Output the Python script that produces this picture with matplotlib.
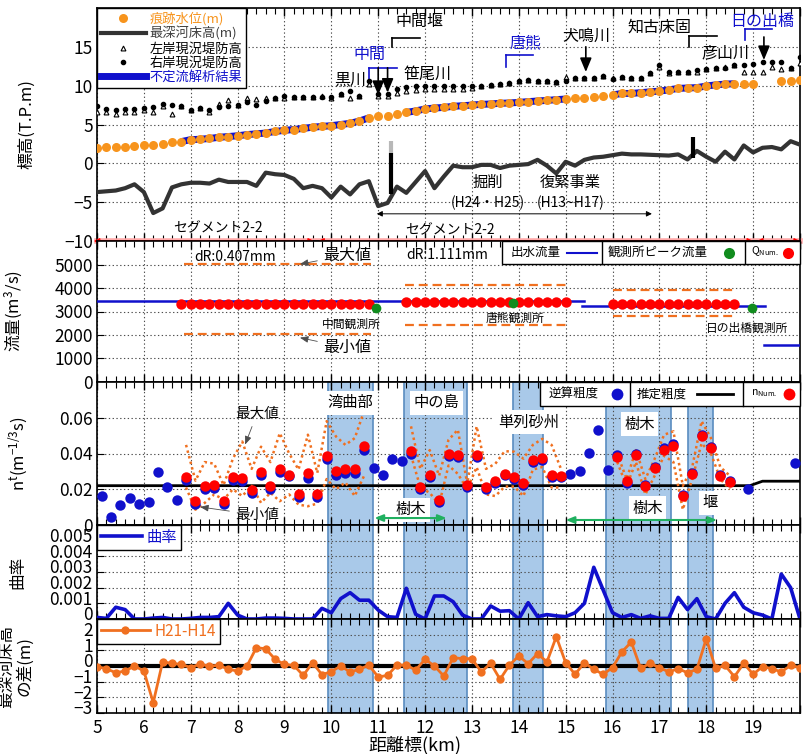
"""
縦断図（標高・流量・粗度・曲率・河床変動）を5段で描く
"""

import numpy as np
import matplotlib
matplotlib.use("Agg")
import matplotlib.pyplot as plt
import matplotlib.transforms as mtransforms
from matplotlib.lines import Line2D
from matplotlib.patches import Rectangle
from matplotlib.ticker import MultipleLocator

plt.rcParams['font.family'] = ['Noto Sans CJK JP', 'DejaVu Sans']
plt.rcParams['axes.unicode_minus'] = True

# =========================
# データ
# =========================
km = np.round(np.arange(5.0, 20.01, 0.2), 1)        # 0.2km ピッチ断面
km_odd = np.round(np.arange(5.1, 19.91, 0.2), 1)    # 粗度を出している断面

# 痕跡水位
trace_km = list(np.round(np.arange(5.0, 19.01, 0.2), 1)) + [19.6, 19.8, 20.0]
trace_wl = [2.0, 2.05, 2.1, 2.15, 2.25, 2.3, 2.4, 2.55, 2.7, 2.8,
            3.05, 3.1, 3.2, 3.35, 3.45, 3.55, 3.7, 3.8, 3.9, 4.1,
            4.25, 4.35, 4.5, 4.65, 4.75, 4.85, 5.0, 5.15, 5.45, 5.85,
            6.05, 6.15, 6.3, 6.55, 6.75, 7.0, 7.12, 7.2, 7.34, 7.42,
            7.5, 7.6, 7.64, 7.73, 7.77, 7.85, 7.94, 8.03, 8.1, 8.2,
            8.28, 8.37, 8.45, 8.54, 8.7, 8.8, 9.0, 9.0, 9.1, 9.2,
            9.3, 9.45, 9.65, 9.7, 9.75, 9.95, 10.1, 10.2, 10.25, 10.25,
            10.25, 10.6, 10.6, 10.7]

# 不定流解析結果の区間
sim_ranges = [(6.8, 10.8), (11.6, 15.0), (16.0, 18.6)]

# 最深河床高
bed = [-3.7, -3.6, -3.5, -3.2, -2.7, -3.7, -6.4, -5.8, -3.1, -2.7,
       -2.5, -2.5, -2.6, -2.1, -2.4, -2.4, -2.4, -2.9, -1.2, -1.4,
       -1.5, -2.0, -3.2, -2.9, -3.2, -4.4, -3.0, -4.0, -2.7, -2.3,
       -5.5, -5.1, -3.0, -3.8, -2.4, -1.0, -3.2, -1.7, -0.3, -0.5,
       -0.5, -0.2, -0.2, -0.6, -0.3, -0.2, -0.1, 0.45, -0.3, -1.3,
       0.2, -0.3, 0.45, 0.75, 0.85, 1.05, 1.25, 1.15, 1.15, 1.1,
       1.05, 1.0, 1.15, 0.5, 1.6, 0.85, 0.2, 1.5, 0.5, 2.3,
       1.4, 2.0, 2.1, 1.8, 2.85, 2.4]

# 堰（km, 下端, 上端）
weir_km = [11.27, 17.72]
weir_lo = [-3.9, 0.65]
weir_hi = [1.35, 3.4]
weir_top_gray = 2.9

# 現況堤防高
levee_left = [6.65, 6.57, 6.35, 6.57, 6.65, 6.87, 6.57, 7.42, 6.35, 7.35,
              6.87, 7.08, 6.65, 7.6, 8.2, 7.5, 8.37, 8.28, 8.4, 8.37,
              8.45, 8.5, 8.5, 8.5, 8.63, 8.45, 8.9, 8.4, 8.7, 10.2,
              8.7, 8.7, 9.05, 9.35, 9.5, 9.57, 9.57, 9.57, 9.57, 9.57,
              9.7, 9.9, 10.1, 10.2, 10.4, 10.55, 10.7, 10.65, 10.65, 10.5,
              11.07, 11.0, 11.0, 11.0, 11.2, 11.0, 11.1, 11.0, 11.0, 11.65,
              12.4, 11.65, 11.7, 11.7, 11.7, 12.2, 12.25, 12.4, 12.7, 11.7,
              11.7, 11.7, 12.4, 12.1, 12.3, 12.9]
levee_right = [7.35, 7.0, 6.87, 7.0, 7.0, 7.1, 7.3, 7.6, 7.5, 7.35,
               6.87, 7.08, 6.87, 7.2, 7.42, 7.5, 7.85, 7.5, 8.07, 8.37,
               8.7, 8.5, 8.5, 8.5, 8.58, 8.5, 8.93, 9.27, 8.7, 10.6,
               8.9, 8.9, 9.57, 9.8, 9.9, 10.0, 9.9, 9.9, 10.0, 10.0,
               9.9, 9.9, 10.1, 10.2, 10.4, 10.55, 10.7, 10.65, 10.65, 10.5,
               10.65, 11.0, 11.0, 11.0, 11.3, 10.9, 11.1, 11.05, 11.05, 11.65,
               12.6, 11.75, 11.8, 11.7, 12.0, 12.2, 12.25, 12.25, 12.6, 12.7,
               12.85, 13.0, 13.05, 13.0, 12.3, 13.7]

# 流量
flow_seg = [(5.0, 15.4, 3430), (15.35, 19.25, 3250), (19.23, 20.0, 1560)]
qnum_km = [np.round(np.arange(6.8, 10.81, 0.2), 1),
           np.round(np.arange(11.6, 15.01, 0.2), 1),
           np.round(np.arange(16.0, 18.61, 0.2), 1)]
qnum_val = [[3320] * 21, [3400] * 18, [3330] * 14]
qrange_km = [(6.85, 10.85), (11.57, 15.0), (16.0, 18.6)]
qmax = [5030, 4140, 3930]
qmin = [2060, 2430, 2790]
obs_km = [10.95, 13.87, 18.97]
obs_q = [3140, 3370, 3140]
obs_name = ['中間観測所', '唐熊観測所', '日の出橋観測所']

# 粗度
n_back = [0.0162, 0.0042, 0.0114, 0.0152, 0.0118, 0.0126, 0.0295, 0.0215, 0.0139, 0.0251,
          0.012, 0.0200, 0.0206, 0.012, 0.0251, 0.0246, 0.018, 0.028, 0.0204, 0.0295,
          0.0272, 0.0158, 0.0263, 0.0158, 0.0371, 0.0280, 0.0291, 0.0291, 0.0419, 0.0318,
          0.0282, 0.0371, 0.0356, 0.0400, 0.020, 0.027, 0.013, 0.0385, 0.038, 0.0215,
          0.0383, 0.020, 0.0234, 0.0278, 0.0257, 0.0222, 0.0352, 0.0366, 0.0268, 0.0266,
          0.0286, 0.0303, 0.0402, 0.0533, 0.0305, 0.039, 0.0236, 0.040, 0.0222, 0.0322,
          0.0429, 0.0453, 0.0167, 0.0291, 0.0505, 0.0438, 0.028, 0.0248, np.nan, 0.0204,
          np.nan, np.nan, np.nan, np.nan, 0.0349]
n_est_km = [5.0, 18.93, 19.2, 20.0]
n_est = [0.022, 0.022, 0.0245, 0.0245]

nnum_km = [np.round(np.arange(6.9, 10.71, 0.2), 1),
           np.round(np.arange(11.7, 14.91, 0.2), 1),
           np.round(np.arange(16.1, 18.51, 0.2), 1)]
nnum = [[0.026, 0.0128, 0.021, 0.0215, 0.0128, 0.026, 0.0257, 0.0192, 0.029, 0.0213,
         0.0309, 0.0276, 0.017, 0.0284, 0.0168, 0.038, 0.0295, 0.0305, 0.0305, 0.0434],
        [0.0406, 0.0204, 0.0272, 0.0133, 0.039, 0.0385, 0.0219, 0.0387, 0.0204, 0.0238,
         0.0282, 0.0261, 0.0227, 0.0356, 0.0371, 0.0272, 0.027],
        [0.0377, 0.0238, 0.0387, 0.0213, 0.0314, 0.0413, 0.0434, 0.0158, 0.028, 0.049,
         0.0425, 0.027, 0.0236]]
nmax = [[0.0448, 0.0248, 0.0352, 0.0343, 0.0223, 0.0371, 0.0467, 0.0314, 0.0438, 0.0352,
         0.0514, 0.040, 0.031, 0.0505, 0.0291, 0.0581, 0.0495, 0.0448, 0.0486, 0.0638],
        [0.0552, 0.0314, 0.0419, 0.0276, 0.0476, 0.0533, 0.0229, 0.0552, 0.0314, 0.0343,
         0.0413, 0.041, 0.0371, 0.0448, 0.0482, 0.0448, 0.0314],
        [0.040, 0.0257, 0.0419, 0.0257, 0.0371, 0.0505, 0.0524, 0.0219, 0.0324, 0.0581,
         0.0486, 0.0324, 0.0276]]
nmin = [[0.021, 0.0086, 0.0124, 0.0171, 0.0143, 0.020, 0.0162, 0.0219, 0.0124, 0.0181,
         0.0133, 0.0171, 0.0114, 0.0105, 0.012, 0.0257, 0.020, 0.0238, 0.0162, 0.0276],
        [0.039, 0.021, 0.018, 0.0114, 0.0333, 0.0286, 0.020, 0.0324, 0.0171, 0.0162,
         0.0215, 0.0215, 0.0162, 0.031, 0.0324, 0.021, 0.021],
        [0.0352, 0.0219, 0.0352, 0.0171, 0.0276, 0.0387, 0.0352, 0.0086, 0.0257, 0.0457,
         0.040, 0.0257, 0.020]]

# 曲率
curv = [0.0001, 0.00004, 0.00075, 0.0006, 0, 0, 0.00006, 0.0001, 0, 0,
        0.00004, 0.0001, 0.0001, 0.00015, 0.001, 0.00025, 0, 0, 0.00006, 0.00006,
        0.00004, 0, 0, 0, 0.00068, 0.0004, 0.0013, 0.00168, 0.0012, 0.0012,
        0.00057, 0.00015, 0.0001, 0.00196, 0.0003, 0, 0.00147, 0.00147, 0.0011, 0.00025,
        0, 0, 0.00083, 0.0005, 0.00053, 0, 0.00104, 0.00015, 0.00028, 0.0002,
        0.00015, 0.0004, 0.001, 0.0033, 0.00185, 0.0004, 0.0001, 0.00028, 0.00004, 0.0002,
        0.00004, 0.00004, 0.00138, 0.0006, 0.0013, 0.00015, 0, 0.001, 0.00168, 0.00075,
        0.0004, 0.00025, 0, 0.00287, 0.002, 0]

# 最深河床高の差 H21-H14
dbed = [-0.04, -0.17, -0.43, -0.32, 0.0, -0.32, -2.34, 0.26, 0.17, 0.1,
        -0.1, 0.13, -0.02, 0.06, -0.21, -0.32, 0.0, 1.17, 1.1, 0.43,
        0.1, 0.04, -0.6, 0.21, -0.55, -0.36, 0.0, -0.38, -0.21, 0.06,
        -0.7, -0.6, 0.06, 0.06, -0.26, 0.43, 0.0, -0.64, 0.53, 0.47,
        0.47, -0.38, 0.17, -0.85, 0.06, 0.64, 0.15, 0.79, 0.26, 1.87,
        0.21, -0.53, 0.21, -0.21, -0.53, -0.1, 0.9, 1.53, -0.15, 0.17,
        -0.1, -0.38, -0.17, -0.43, -0.21, 1.74, -0.15, 0.04, -0.68, 0.17,
        -0.53, -0.04, -0.17, -0.38, 0.04, -0.1]

# 特徴区間（湾曲部・中の島・単列砂州・樹木・堰）
bands = [(9.93, 10.88), (11.55, 12.9), (13.88, 14.52), (15.86, 17.25), (17.6, 18.15)]

# =========================
# 色
# =========================
c_orange = '#f7941d'
c_dash = '#f07020'
c_blue = '#1010cc'
c_red = '#ff0000'
c_green = '#118c1e'
c_band = '#a9c9e9'
c_band_edge = '#5a8cc0'

# =========================
# 図
# =========================
fig = plt.figure(figsize=(8.09, 7.54), dpi=100)
L, W = 97 / 809, 703 / 809


def rect(top_px, bot_px):
    return [L, 1 - bot_px / 754, W, (bot_px - top_px) / 754]


ax1 = fig.add_axes(rect(8, 241))
ax2 = fig.add_axes(rect(241, 382))
ax3 = fig.add_axes(rect(382, 525))
ax4 = fig.add_axes(rect(525, 619))
ax5 = fig.add_axes(rect(619, 713))
axes = [ax1, ax2, ax3, ax4, ax5]


def style(ax):
    ax.set_xlim(5, 20)
    ax.xaxis.set_major_locator(MultipleLocator(1))
    ax.xaxis.set_minor_locator(MultipleLocator(0.2))
    ax.tick_params(axis='x', which='both', direction='in', top=True, bottom=True,
                   labelbottom=False)
    ax.tick_params(axis='x', which='major', length=6, width=1)
    ax.tick_params(axis='x', which='minor', length=4, width=0.8)
    ax.tick_params(axis='y', direction='in', length=5, labelsize=12.5, pad=3)
    ax.grid(True, which='major', ls=(0, (1.2, 2.2)), color='0.3', lw=0.8)
    ax.set_axisbelow(True)
    for s in ax.spines.values():
        s.set_linewidth(1.2)


for ax in axes:
    style(ax)

# -------- 1段目：標高 --------
ax1.set_ylim(-10, 20)
ax1.set_yticks([-10, -5, 0, 5, 10, 15])

ax1.plot(km, bed, color='#333333', lw=3, zorder=3)
for k, lo, hi in zip(weir_km, weir_lo, weir_hi):
    ax1.plot([k, k], [lo, hi], color='k', lw=3, zorder=4, solid_capstyle='butt')
ax1.plot([weir_km[0], weir_km[0]], [weir_hi[0], weir_top_gray], color='#b8b8b8', lw=3,
         zorder=4, solid_capstyle='butt')

ax1.plot(km, levee_left, ls='none', marker='^', ms=3.5, mfc='white', mec='k', mew=0.8, zorder=4)
ax1.plot(km, levee_right, ls='none', marker='o', ms=3, color='k', zorder=4)

trace_km_a = np.array(trace_km)
trace_wl_a = np.array(trace_wl)
for a, b in sim_ranges:
    m = (trace_km_a >= a - 1e-6) & (trace_km_a <= b + 1e-6)
    ax1.plot(trace_km_a[m], trace_wl_a[m], color=c_blue, lw=5, zorder=4,
             solid_capstyle='butt')
ax1.plot(trace_km, trace_wl, ls='none', marker='o', ms=6.5, color=c_orange, mec='none', zorder=5)

# 区分の赤線（下端）
ax1.plot([5, 20], [-10, -10], color='#ffa8a8', lw=4, zorder=2, clip_on=False)
for a, b in [(4.93, 9.63), (9.72, 19.0), (19.08, 20.0)]:
    ax1.annotate('', xy=(a, -10), xytext=(b, -10), annotation_clip=False,
                 arrowprops=dict(arrowstyle='<|-|>', color=c_red, lw=1, mutation_scale=8,
                                 shrinkA=0, shrinkB=0))

handles = [Line2D([], [], ls='none', marker='o', ms=6.5, color=c_orange, mec='none'),
           Line2D([], [], color='#333333', lw=3),
           Line2D([], [], ls='none', marker='^', ms=3.5, mfc='white', mec='k', mew=0.8),
           Line2D([], [], ls='none', marker='o', ms=3, color='k'),
           Line2D([], [], color=c_blue, lw=5)]
labels = ['痕跡水位(m)', '最深河床高(m)', '左岸現況堤防高', '右岸現況堤防高', '不定流解析結果']
leg = ax1.legend(handles, labels, loc='upper left', bbox_to_anchor=(0, 1), borderaxespad=0,
                 fontsize=9.5, fancybox=False, edgecolor='k', framealpha=1,
                 handlelength=3.4, handletextpad=0.3, labelspacing=0.1, borderpad=0.3)
leg.get_frame().set_linewidth(1.0)
leg.set_zorder(10)
for t, c in zip(leg.get_texts(), [c_orange, '#404040', 'k', 'k', c_blue]):
    t.set_color(c)

# 地名・支川
fs = 11.5
ax1.text(10.82, 14.0, '中間', color=c_blue, fontsize=fs, ha='center', va='center')
ax1.plot([10.80, 11.40], [12.3, 12.3], color=c_blue, lw=1.2)
ax1.plot([10.80, 10.80], [12.3, 10.6], color=c_blue, lw=1.2)
ax1.text(11.89, 18.2, '中間堰', fontsize=fs, ha='center', va='center')
ax1.plot([11.29, 11.89], [16.1, 16.1], color='k', lw=1.2)
ax1.plot([11.29, 11.29], [16.1, 15.0], color='k', lw=1.2)
ax1.text(10.4, 10.7, '黒川', fontsize=fs, ha='center', va='center')
ax1.text(12.05, 11.5, '笹尾川', fontsize=fs, ha='center', va='center')
ax1.text(14.15, 15.5, '唐熊', color=c_blue, fontsize=fs, ha='center', va='center')
ax1.plot([13.73, 14.30], [13.95, 13.95], color=c_blue, lw=1.2)
ax1.plot([13.73, 13.73], [13.95, 12.4], color=c_blue, lw=1.2)
ax1.text(15.45, 16.3, '犬鳴川', fontsize=fs, ha='center', va='center')
ax1.text(17.0, 17.55, '知古床固', fontsize=fs, ha='center', va='center')
ax1.plot([17.63, 18.23], [16.4, 16.4], color='k', lw=1.2)
ax1.plot([17.63, 17.63], [16.4, 15.0], color='k', lw=1.2)
ax1.text(19.19, 18.2, '日の出橋', color=c_blue, fontsize=fs, ha='center', va='center')
ax1.plot([18.83, 19.40], [17.3, 17.3], color=c_blue, lw=1.2)
ax1.plot([18.83, 18.83], [17.3, 15.9], color=c_blue, lw=1.2)
ax1.text(18.4, 14.2, '彦山川', fontsize=fs, ha='center', va='center')

arrow_kw = dict(arrowstyle='-|>,head_length=0.6,head_width=0.25', color='k', lw=1.2,
                mutation_scale=14, shrinkA=0, shrinkB=0)
for x0, y0, y1 in [(11.0, 12.3, 8.8), (11.2, 12.3, 9.1), (15.43, 15.0, 11.76), (19.23, 16.27, 13.3)]:
    ax1.annotate('', xy=(x0, y1), xytext=(x0, y0), arrowprops=arrow_kw, zorder=6)

ax1.text(13.34, -2.5, '掘削', fontsize=11, ha='center', va='center')
ax1.text(13.34, -5.1, '(H24・H25)', fontsize=10, ha='center', va='center')
ax1.text(15.1, -2.5, '復緊事業', fontsize=11, ha='center', va='center')
ax1.text(15.1, -5.1, '(H13~H17)', fontsize=10, ha='center', va='center')
ax1.annotate('', xy=(10.97, -6.5), xytext=(16.84, -6.5),
             arrowprops=dict(arrowstyle='<|-|>', color='k', lw=0.7, mutation_scale=8,
                             shrinkA=0, shrinkB=0))
ax1.text(7.58, -8.3, 'セグメント2-2', fontsize=10, ha='center', va='center')
ax1.text(12.53, -8.6, 'セグメント2-2', fontsize=10, ha='center', va='center')

ax1.set_ylabel('標高(T.P.m)', fontsize=12)
ax1.yaxis.set_label_coords(-0.088, 0.5)

# -------- 2段目：流量 --------
ax2.set_ylim(0, 6000)
ax2.set_yticks([0, 1000, 2000, 3000, 4000, 5000])
for a, b, q in flow_seg:
    ax2.plot([a, b], [q, q], color=c_blue, lw=1.8, zorder=3)
for (a, b), qa, qb in zip(qrange_km, qmax, qmin):
    ax2.plot([a, b], [qa, qa], color=c_dash, lw=1.6, dashes=(4, 2.2), zorder=3)
    ax2.plot([a, b], [qb, qb], color=c_dash, lw=1.6, dashes=(4, 2.2), zorder=3)
for kk, vv in zip(qnum_km, qnum_val):
    ax2.plot(kk, vv, ls='none', marker='o', ms=7.5, color=c_red, mec='none', zorder=4)
ax2.plot(obs_km, obs_q, ls='none', marker='o', ms=7, color=c_green, mec='none', zorder=5)
for x0, y0, name in zip([10.43, 13.92, 18.87], [2440, 2700, 2270], obs_name):
    ax2.text(x0, y0, name, fontsize=8.5, ha='center', va='center', zorder=6)

ax2.text(7.94, 5320, 'dR:0.407mm', fontsize=10, ha='center', va='center')
ax2.text(12.47, 5400, 'dR:1.111mm', fontsize=10, ha='center', va='center')
thin_kw = dict(arrowstyle='-|>,head_length=0.5,head_width=0.2', color='0.3', lw=0.6,
               mutation_scale=10, shrinkA=2, shrinkB=0)
ax2.annotate('最大値', xy=(9.33, 5014), xytext=(10.33, 5400), fontsize=11.5,
             ha='center', va='center', arrowprops=thin_kw)
ax2.annotate('最小値', xy=(9.33, 1886), xytext=(10.33, 1460), fontsize=11.5,
             ha='center', va='center', arrowprops=thin_kw)


def box_legend(ax, x0, x1, y0, dividers):
    ax.add_patch(Rectangle((x0, y0), x1 - x0, 1 - y0, transform=ax.transAxes,
                           facecolor='white', edgecolor='k', lw=1, zorder=8, clip_on=False))
    for d in dividers:
        ax.plot([d, d], [y0, 1], transform=ax.transAxes, color='k', lw=1, zorder=9,
                clip_on=False)


box_legend(ax2, 0.576, 1.0, 0.835, [0.718, 0.922])
yl = 0.918
ax2.text(0.588, yl, '出水流量', transform=ax2.transAxes, fontsize=9, va='center', zorder=10)
ax2.plot([0.668, 0.711], [yl, yl], transform=ax2.transAxes, color=c_blue, lw=1.5, zorder=10)
ax2.text(0.727, yl, '観測所ピーク流量', transform=ax2.transAxes, fontsize=9, va='center', zorder=10)
ax2.plot([0.899], [yl], transform=ax2.transAxes, marker='o', ms=8, color=c_green, mec='none', zorder=10)
ax2.text(0.930, yl + 0.01, r'$\mathregular{Q_{Num.}}$', transform=ax2.transAxes, fontsize=7.5,
         va='center', zorder=10)
ax2.plot([0.983], [yl], transform=ax2.transAxes, marker='o', ms=8, color=c_red, mec='none', zorder=10)

ax2.set_ylabel(r'流量(m$\mathregular{^3}$/s)', fontsize=12)
ax2.yaxis.set_label_coords(-0.102, 0.5)

# -------- 3〜5段目：区間の網掛け --------
for ax in [ax3, ax4, ax5]:
    for a, b in bands:
        ax.axvspan(a, b, facecolor=c_band, edgecolor=c_band_edge, lw=1.2, zorder=0)

# -------- 3段目：粗度 --------
ax3.set_ylim(0, 0.08)
ax3.set_yticks([0, 0.02, 0.04, 0.06])
ax3.set_yticklabels(['0', '0.02', '0.04', '0.06'])
ax3.plot(n_est_km, n_est, color='k', lw=2, zorder=3)
for kk, a, b in zip(nnum_km, nmax, nmin):
    ax3.plot(kk, a, color=c_dash, lw=1.8, ls=(0, (1, 1.3)), zorder=3)
    ax3.plot(kk, b, color=c_dash, lw=1.8, ls=(0, (1, 1.3)), zorder=3)
ax3.plot(km_odd, n_back, ls='none', marker='o', ms=7.5, color=c_blue, mec='none', zorder=4)
for kk, vv in zip(nnum_km, nnum):
    ax3.plot(kk, np.array(vv) + 0.0006, ls='none', marker='o', ms=7.5, color=c_red,
             mec='none', zorder=5)

wbox = dict(facecolor='white', edgecolor='none', pad=2.5)
for x0, y0, s in [(10.4, 0.0685, '湾曲部'), (12.25, 0.0685, '中の島'), (14.2, 0.0575, '単列砂州'),
                  (16.58, 0.0565, '樹木'), (11.7, 0.0085, '樹木'), (16.75, 0.0095, '樹木'),
                  (18.08, 0.0125, '堰')]:
    ax3.text(x0, y0, s, fontsize=11, ha='center', va='center', bbox=wbox, zorder=6)

green_kw = dict(arrowstyle='<|-|>,head_length=0.5,head_width=0.2', color='#20b060', lw=1.5,
                mutation_scale=10, shrinkA=0, shrinkB=0)
ax3.annotate('', xy=(10.92, 0.0039), xytext=(12.46, 0.0039), arrowprops=green_kw, zorder=7)
ax3.annotate('', xy=(15.0, 0.0028), xytext=(18.23, 0.0028), arrowprops=green_kw, zorder=7)

ax3.annotate('最大値', xy=(8.16, 0.045), xytext=(8.41, 0.062), fontsize=10.5,
             ha='center', va='center', arrowprops=thin_kw, zorder=7)
ax3.annotate('最小値', xy=(7.2, 0.0101), xytext=(8.41, 0.0056), fontsize=10.5,
             ha='center', va='center', arrowprops=thin_kw, zorder=7)

box_legend(ax3, 0.630, 1.0, 0.83, [0.758, 0.919])
yl = 0.915
ax3.text(0.642, yl, '逆算粗度', transform=ax3.transAxes, fontsize=9, va='center', zorder=10)
ax3.plot([0.74], [yl], transform=ax3.transAxes, marker='o', ms=8.5, color=c_blue, mec='none', zorder=10)
ax3.text(0.768, yl, '推定粗度', transform=ax3.transAxes, fontsize=9, va='center', zorder=10)
ax3.plot([0.853, 0.905], [yl, yl], transform=ax3.transAxes, color='k', lw=2, zorder=10)
ax3.text(0.930, yl + 0.01, r'$\mathregular{n_{Num.}}$', transform=ax3.transAxes, fontsize=7.5,
         va='center', zorder=10)
ax3.plot([0.984], [yl], transform=ax3.transAxes, marker='o', ms=8.5, color=c_red, mec='none', zorder=10)

ax3.set_ylabel(r'$\mathregular{n^t(m^{-1/3}s)}$', fontsize=12)
ax3.yaxis.set_label_coords(-0.095, 0.5)

# -------- 4段目：曲率 --------
ax4.set_ylim(0, 0.006)
ax4.set_yticks([0, 0.001, 0.002, 0.003, 0.004, 0.005])
ax4.set_yticklabels(['0', '0.001', '0.002', '0.003', '0.004', '0.005'])
ax4.plot(km, curv, color=c_blue, lw=2.6, zorder=3, label='曲率')
leg4 = ax4.legend(loc='upper left', bbox_to_anchor=(0, 1), borderaxespad=0, fontsize=11,
                  fancybox=False, edgecolor='k', framealpha=1, handlelength=2.7,
                  handletextpad=0.3, borderpad=0.25)
leg4.get_frame().set_linewidth(1.0)
leg4.get_texts()[0].set_color(c_blue)
ax4.set_ylabel('曲率', fontsize=12)
ax4.yaxis.set_label_coords(-0.1, 0.5)

# -------- 5段目：最深河床高の差 --------
ax5.set_ylim(-3, 3)
ax5.set_yticks([-3, -2, -1, 0, 1, 2])
ax5.axhline(0, color='k', lw=3, zorder=2)
ax5.plot(km, dbed, color=c_dash, lw=2, marker='o', ms=6, mec='none', zorder=3, label='H21-H14')
leg5 = ax5.legend(loc='upper left', bbox_to_anchor=(0, 1), borderaxespad=0, fontsize=11,
                  fancybox=False, edgecolor='k', framealpha=1, handlelength=3.2,
                  handletextpad=0.3, borderpad=0.25)
leg5.get_frame().set_linewidth(1.0)
leg5.get_texts()[0].set_color(c_dash)
ax5.set_ylabel('最深河床高\nの差(m)', fontsize=12, linespacing=1.0)
ax5.yaxis.set_label_coords(-0.091, 0.5)

ax5.set_xticks(range(5, 21))
ax5.set_xticklabels([str(i) for i in range(5, 20)] + [''])
ax5.tick_params(axis='x', which='major', labelbottom=True, labelsize=12.5, pad=4)
fig.text(415 / 809, 1 - 745 / 754, '距離標(km)', ha='center', va='center', fontsize=13)

# 4・5段目の目盛り文字は少し上にずれている
shift = mtransforms.ScaledTranslation(0, 4 / 72, fig.dpi_scale_trans)
for ax in [ax4, ax5]:
    for lab in ax.get_yticklabels():
        lab.set_transform(lab.get_transform() + shift)

fig.savefig('out.png', dpi=100)
plt.close(fig)
